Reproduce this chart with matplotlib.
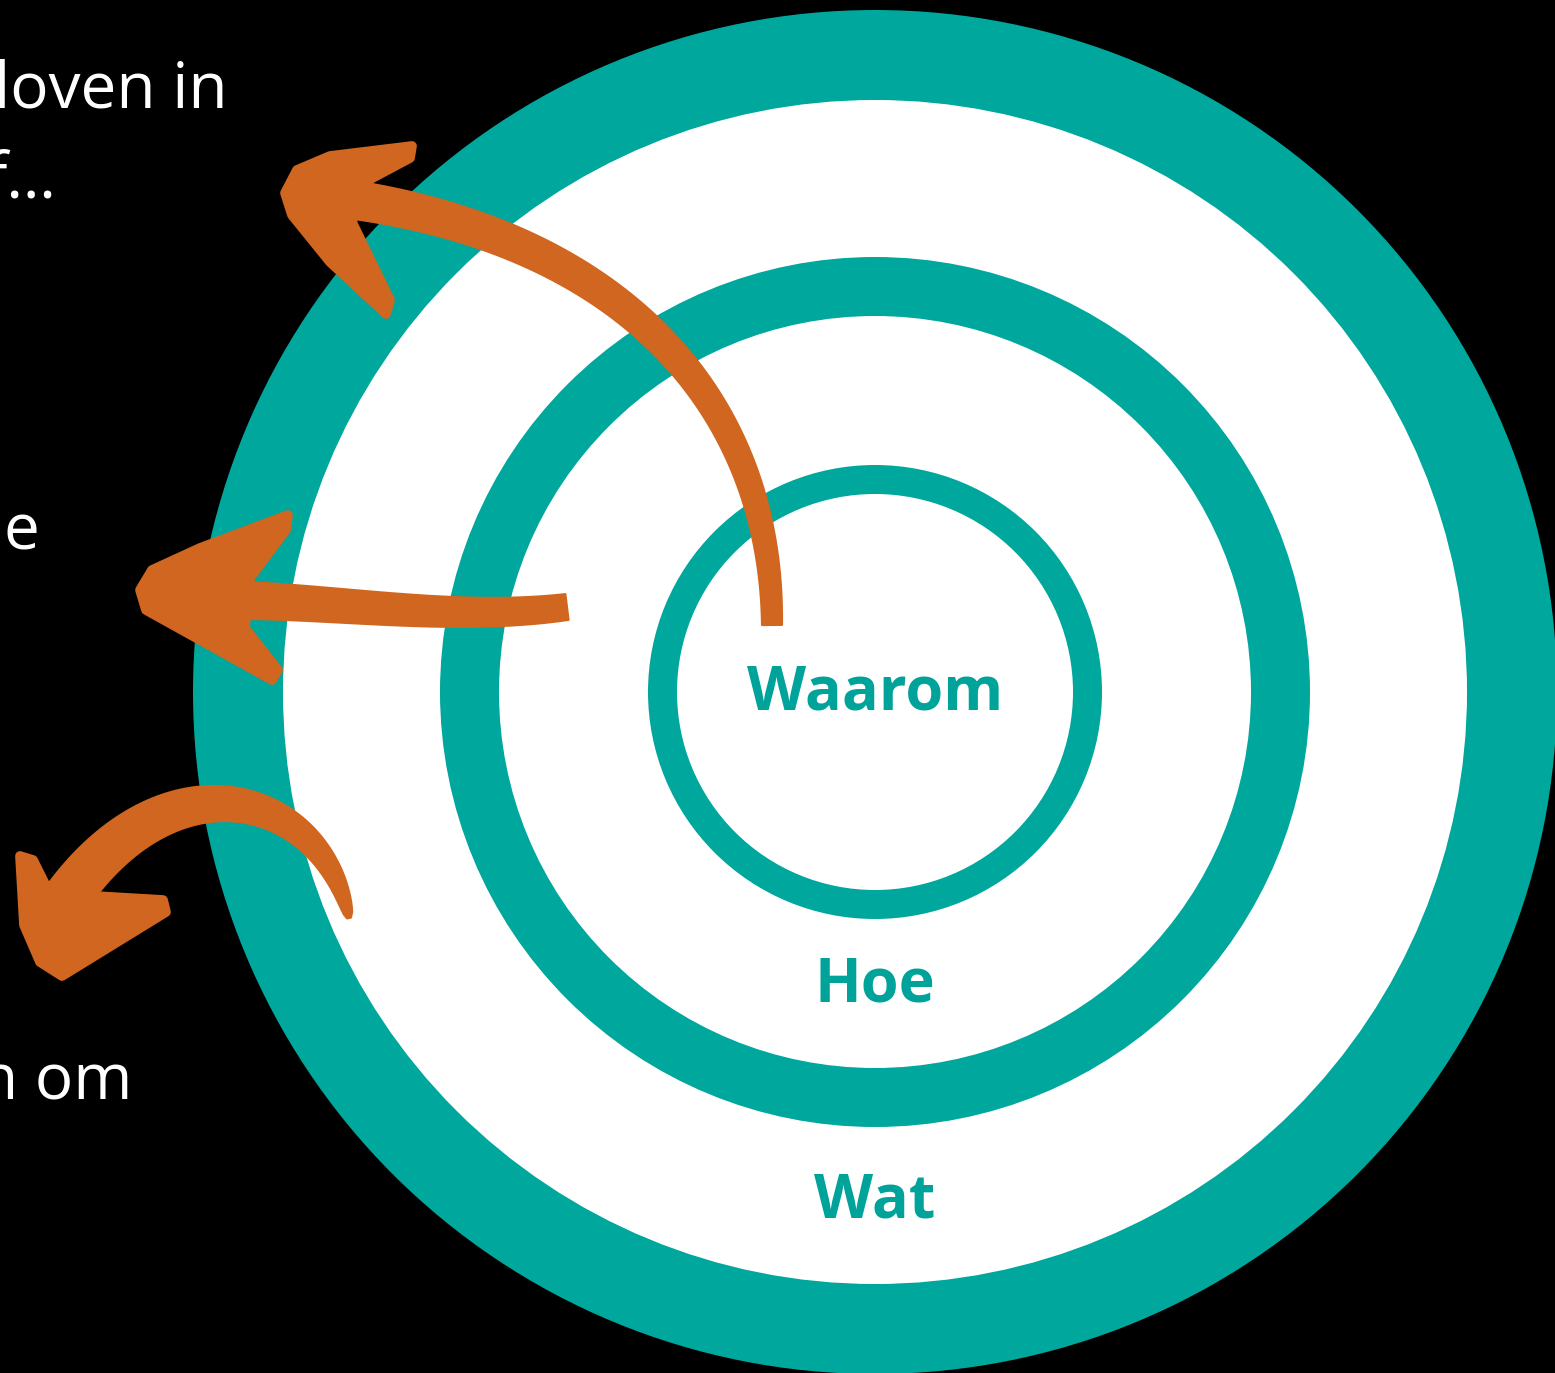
import numpy as np
import matplotlib.pyplot as plt
from matplotlib.patches import Circle, Polygon

# golden circle rings (outer -> inner), radius in px
ring_radii = [682, 592, 435, 376, 227, 198]
ring_colors = ["#00A79D", "white", "#00A79D", "white", "#00A79D", "white"]
center = (875, 692)

labels = ["Waarom", "Hoe", "Wat"]
label_y = [694, 986, 1202]

# left side text (cut off by the page edge)
side_text = ["loven in", "f\u2026", "e", "n om"]
side_right = [228, 56, 39, 132]
side_base = [108, 198, 550, 1100]

# hand drawn arrows: bezier control points of the shaft (tail -> head),
# widths at tail/head, taper power, and an outline for the head
arrow_shafts = [
    [(772, 625), (772, 400), (620, 235), (340, 198)],
    [(567, 607), (450, 622), (330, 600), (215, 600)],
    [(349, 918), (322, 790), (170, 750), (65, 900)],
]
arrow_widths = [(20, 38), (26, 38), (4, 46)]
arrow_taper = [1.0, 1.0, 0.5]
arrow_heads = [
    [(285, 193), (297, 170), (330, 156), (412, 146), (410, 158), (365, 182),
     (352, 222), (390, 300), (386, 314), (330, 262), (292, 215)],
    [(140, 590), (152, 570), (200, 548), (288, 515), (286, 530), (250, 578),
     (245, 628), (278, 670), (272, 680), (200, 640), (146, 610)],
    [(62, 976), (40, 962), (24, 925), (20, 856), (33, 860), (48, 890),
     (95, 896), (163, 900), (166, 912)],
]
orange = "#D0661F"


def bezier(pts, n=80):
    p = np.array(pts, dtype=float)
    t = np.linspace(0, 1, n)[:, None]
    return ((1 - t) ** 3 * p[0] + 3 * (1 - t) ** 2 * t * p[1]
            + 3 * (1 - t) * t ** 2 * p[2] + t ** 3 * p[3])


def tapered(pts, w0, w1, k):
    c = bezier(pts)
    d = np.gradient(c, axis=0)
    d /= np.linalg.norm(d, axis=1)[:, None]
    nrm = np.stack([-d[:, 1], d[:, 0]], axis=1)
    s = np.linspace(0, 1, len(c))[:, None]
    w = (w0 + (w1 - w0) * s ** k) / 2
    return np.vstack([c + nrm * w, (c - nrm * w)[::-1]])


fig = plt.figure(figsize=(15.55, 13.73), dpi=100, facecolor="black")
ax = fig.add_axes([0, 0, 1, 1])
ax.set_facecolor("black")
ax.set_xlim(0, 1555)
ax.set_ylim(1373, 0)
ax.set_aspect("equal")
ax.axis("off")

for r, col in zip(ring_radii, ring_colors):
    ax.add_patch(Circle(center, r, color=col, lw=0))

for lab, y in zip(labels, label_y):
    ax.text(center[0], y, lab, color="#00A39A", fontsize=44, fontweight="bold",
            family="Open Sans", ha="center", va="center")

for s, xr, yb in zip(side_text, side_right, side_base):
    ax.text(xr, yb, s, color="white", fontsize=46, family="Open Sans",
            ha="right", va="baseline")

for shaft, (w0, w1), k, head in zip(arrow_shafts, arrow_widths, arrow_taper, arrow_heads):
    ax.add_patch(Polygon(tapered(shaft, w0, w1, k), closed=True, facecolor=orange,
                         edgecolor=orange, lw=1.5, joinstyle="round"))
    ax.add_patch(Polygon(head, closed=True, facecolor=orange, edgecolor=orange,
                         lw=7, joinstyle="round"))

fig.savefig("out.png", dpi=100, facecolor="black")
